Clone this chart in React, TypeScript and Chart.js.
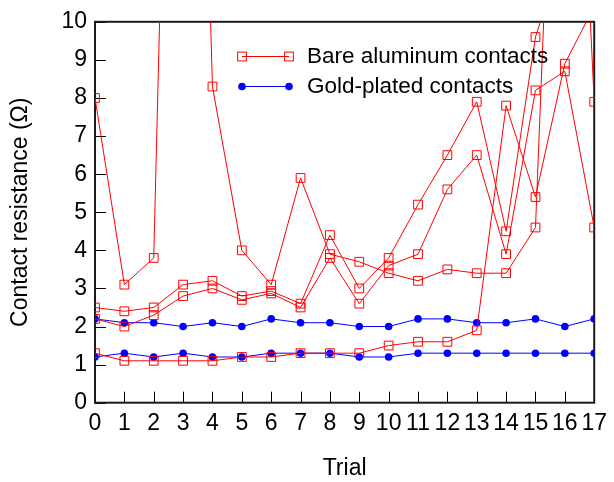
import React, { useEffect, useRef } from "react";
import { Chart, registerables } from "chart.js";

Chart.register(...registerables);

// ---- data ----
const trials = [0, 1, 2, 3, 4, 5, 6, 7, 8, 9, 10, 11, 12, 13, 14, 15, 16, 17];
const bareA = [8.0, 3.1, 3.8, 35, 8.3, 4.0, 3.1, 5.9, 3.9, 3.7, 3.4, 3.2, 3.5, 3.4, 3.4, 4.6, 24, 7.9];
const bareB = [2.5, 2.4, 2.5, 3.1, 3.2, 2.8, 2.93, 2.6, 4.4, 3.0, 3.8, 5.2, 6.5, 7.9, 4.5, 9.6, 12, 15];
const bareC = [2.2, 2.0, 2.3, 2.8, 3.0, 2.7, 2.87, 2.5, 3.8, 2.6, 3.6, 3.9, 5.6, 6.5, 3.9, 8.2, 8.7, 4.6];
const bareD = [1.3, 1.1, 1.1, 1.1, 1.1, 1.2, 1.2, 1.3, 1.3, 1.3, 1.5, 1.6, 1.6, 1.9, 7.8, 5.4, 8.9, 10.4];
const goldA = [2.2, 2.1, 2.1, 2.0, 2.1, 2.0, 2.2, 2.1, 2.1, 2.0, 2.0, 2.2, 2.2, 2.1, 2.1, 2.2, 2.0, 2.2];
const goldB = [1.2, 1.3, 1.2, 1.3, 1.2, 1.2, 1.3, 1.3, 1.3, 1.2, 1.2, 1.3, 1.3, 1.3, 1.3, 1.3, 1.3, 1.3];
const yTicks = [0, 1, 2, 3, 4, 5, 6, 7, 8, 9, 10];
const legendLabels = ["Bare aluminum contacts", "Gold-plated contacts"];

const RED = "#ff0000";
const BLUE = "#0000ff";
const FONT = "'Liberation Sans', Arial, sans-serif";
const FS = 23;

const toPts = (vals: number[]) => vals.map((v, i) => ({ x: trials[i], y: v }));

const redSet = (vals: number[], label: string) => ({
  label,
  data: toPts(vals),
  borderColor: RED,
  borderWidth: 1,
  backgroundColor: "rgba(0,0,0,0)",
  pointStyle: "rect",
  pointRadius: 6.2,
  pointBorderWidth: 1,
  pointBorderColor: RED,
  pointBackgroundColor: "rgba(0,0,0,0)",
  tension: 0,
});

const blueSet = (vals: number[], label: string) => ({
  label,
  data: toPts(vals),
  borderColor: BLUE,
  borderWidth: 1,
  backgroundColor: BLUE,
  pointStyle: "circle",
  pointRadius: 3.8,
  pointBorderWidth: 0,
  pointBackgroundColor: BLUE,
  tension: 0,
});

const framePlugin = {
  id: "frame",
  beforeDatasetsDraw(chart: any) {
    const { ctx, chartArea } = chart;
    const { left, right, top, bottom } = chartArea;
    const xs = chart.scales.x;
    const ys = chart.scales.y;
    ctx.save();
    ctx.strokeStyle = "#000";
    ctx.lineWidth = 1;
    ctx.beginPath();
    trials.forEach((t) => {
      const px = Math.round(xs.getPixelForValue(t)) + 0.5;
      ctx.moveTo(px, bottom);
      ctx.lineTo(px, bottom - 11);
    });
    yTicks.forEach((t) => {
      const py = Math.round(ys.getPixelForValue(t)) + 0.5;
      ctx.moveTo(left, py);
      ctx.lineTo(left + 11, py);
    });
    ctx.stroke();
    ctx.lineWidth = 2;
    ctx.strokeStyle = "#1a1a1a";
    ctx.strokeRect(left, top, right - left, bottom - top);
    ctx.restore();
  },
  afterDraw(chart: any) {
    const { ctx } = chart;
    ctx.save();
    const x1 = 242;
    const x2 = 289;
    const rows = [56, 86];
    ctx.strokeStyle = RED;
    ctx.lineWidth = 1;
    ctx.beginPath();
    ctx.moveTo(x1, rows[0] + 0.5);
    ctx.lineTo(x2, rows[0] + 0.5);
    ctx.stroke();
    [x1, x2].forEach((x) => {
      ctx.strokeRect(x - 4.4, rows[0] - 4.4 + 0.5, 8.8, 8.8);
    });
    ctx.strokeStyle = BLUE;
    ctx.fillStyle = BLUE;
    ctx.beginPath();
    ctx.moveTo(x1, rows[1] + 0.5);
    ctx.lineTo(x2, rows[1] + 0.5);
    ctx.stroke();
    [x1, x2].forEach((x) => {
      ctx.beginPath();
      ctx.arc(x, rows[1] + 0.5, 3.8, 0, Math.PI * 2);
      ctx.fill();
    });
    ctx.fillStyle = "#000";
    ctx.font = `22.5px ${FONT}`;
    ctx.textBaseline = "middle";
    ctx.textAlign = "left";
    ctx.fillText(legendLabels[0], 307, rows[0] + 1);
    ctx.fillText(legendLabels[1], 307, rows[1] + 1);
    ctx.restore();
  },
};

export default function App() {
  const ref = useRef<HTMLCanvasElement>(null);
  useEffect(() => {
    const canvas = ref.current;
    if (!canvas) return;
    Chart.defaults.font.family = FONT;
    const chart = new Chart(canvas, {
      type: "line",
      data: {
        datasets: [
          redSet(bareA, legendLabels[0]),
          redSet(bareB, legendLabels[0]),
          redSet(bareC, legendLabels[0]),
          redSet(bareD, legendLabels[0]),
          blueSet(goldA, legendLabels[1]),
          blueSet(goldB, legendLabels[1]),
        ] as any,
      },
      options: {
        animation: false,
        responsive: false,
        devicePixelRatio: 1,
        layout: { padding: { left: 0, right: 14, top: 18.7, bottom: 0 } },
        plugins: { legend: { display: false }, tooltip: { enabled: false } },
        scales: {
          x: {
            type: "linear",
            min: 0,
            max: 17,
            grid: { display: false, drawTicks: false },
            border: { display: false },
            ticks: {
              stepSize: 1,
              autoSkip: false,
              maxRotation: 0,
              padding: 7,
              color: "#000",
              font: { size: FS, family: FONT },
            },
            title: {
              display: true,
              text: "Trial",
              color: "#000",
              font: { size: FS, family: FONT },
              padding: { top: 0, bottom: 0 },
            },
            afterFit: (s: any) => {
              s.height = 79.3;
            },
          },
          y: {
            type: "linear",
            min: 0,
            max: 10,
            grid: { display: false, drawTicks: false },
            border: { display: false },
            ticks: {
              stepSize: 1,
              padding: 8,
              color: "#000",
              font: { size: FS, family: FONT },
            },
            title: {
              display: true,
              text: "Contact resistance (Ω)",
              color: "#000",
              font: { size: FS, family: FONT },
              padding: { top: 7, bottom: 0 },
            },
            afterFit: (s: any) => {
              s.width = 95;
            },
          },
        },
      } as any,
      plugins: [framePlugin],
    });
    return () => chart.destroy();
  }, []);
  return (
    <div style={{ position: "fixed", left: 0, top: 0, width: 614, height: 482, background: "#fff" }}>
      <canvas ref={ref} width={614} height={482} style={{ width: 614, height: 482, display: "block" }} />
    </div>
  );
}
